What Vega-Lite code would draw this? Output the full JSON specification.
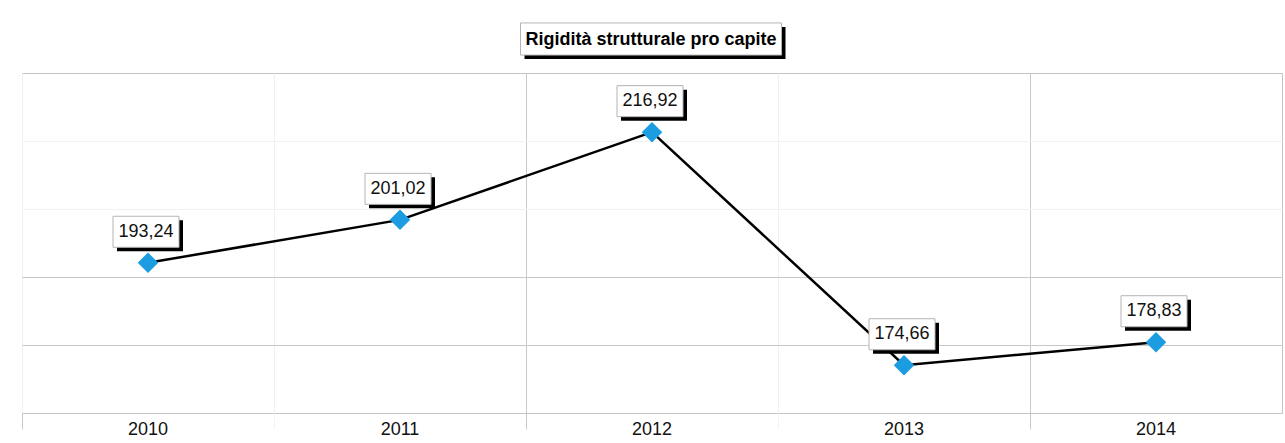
{
  "$schema": "https://vega.github.io/schema/vega-lite/v6.json",
  "padding": {"left": 21, "top": 12, "right": 4, "bottom": 0},
  "background": "white",
  "spacing": 0,
  "config": {
    "locale": {"number": {"decimal": ",", "thousands": ".", "grouping": [3], "currency": ["", " €"]}},
    "view": {"stroke": "#c4c4c4", "strokeWidth": 1},
    "font": "Liberation Sans",
    "concat": {"spacing": 0}
  },
  "vconcat": [
    {
      "width": 1260,
      "height": 60,
      "view": {"stroke": null},
      "data": {"values": [{"titolo": "Rigidità strutturale pro capite"}]},
      "layer": [
        {
          "mark": {"type": "point", "shape": "M-1,-0.123L1,-0.123L1,0.123L-1,0.123Z", "filled": true, "size": 68121, "color": "black", "opacity": 1, "xOffset": 3, "yOffset": 1}
        },
        {
          "mark": {"type": "point", "shape": "M-1,-0.123L1,-0.123L1,0.123L-1,0.123Z", "filled": true, "size": 68121, "fill": "white", "stroke": "#b4b4b4", "strokeWidth": 1, "opacity": 1, "xOffset": -1, "yOffset": -3}
        },
        {
          "mark": {"type": "text", "fontSize": 18, "fontWeight": "bold", "font": "Liberation Sans", "color": "black", "baseline": "middle", "xOffset": -1, "yOffset": -2},
          "encoding": {"text": {"field": "titolo", "type": "nominal"}}
        }
      ]
    },
    {
      "width": 1260,
      "height": 340,
      "data": {"values": [
        {"anno": "2010", "valore": 193.24},
        {"anno": "2011", "valore": 201.02},
        {"anno": "2012", "valore": 216.92},
        {"anno": "2013", "valore": 174.66},
        {"anno": "2014", "valore": 178.83}
      ]},
      "encoding": {
        "x": {
          "field": "anno", "type": "nominal",
          "scale": {"type": "band", "paddingInner": 0, "paddingOuter": 0},
          "axis": {
            "title": null, "labelAngle": 0, "domain": false,
            "grid": true, "bandPosition": 0,
            "gridColor": {"condition": {"test": "datum.value == '2012' || datum.value == '2014'", "value": "#c8c8c8"}, "value": "#f1f1f1"},
            "ticks": true, "tickSize": 16,
            "tickColor": {"condition": {"test": "datum.value == '2010' || datum.value == '2012' || datum.value == '2014'", "value": "#c8c8c8"}, "value": "#f4f4f4"},
            "labelFontSize": 18, "labelFont": "Liberation Sans", "labelColor": "#111111", "labelPadding": -9
          }
        },
        "y": {
          "field": "valore", "type": "quantitative",
          "scale": {"domain": [166, 227.65], "zero": false, "nice": false},
          "axis": {
            "title": null, "labels": false, "ticks": false, "domain": false,
            "grid": true, "values": [178.33, 190.66, 203, 215.33],
            "gridColor": {"condition": {"test": "datum.value > 200", "value": "#f1f1f1"}, "value": "#c8c8c8"}
          }
        }
      },
      "layer": [
        {"mark": {"type": "line", "color": "black", "strokeWidth": 2.5}},
        {"mark": {"type": "point", "shape": "diamond", "filled": true, "size": 420, "color": "#1c9de2", "opacity": 1}},
        {"mark": {"type": "point", "shape": "M-1,-0.47L1,-0.47L1,0.47L-1,0.47Z", "filled": true, "size": 4356, "color": "black", "opacity": 1, "xOffset": 2, "yOffset": -27}},
        {"mark": {"type": "point", "shape": "M-1,-0.47L1,-0.47L1,0.47L-1,0.47Z", "filled": true, "size": 4356, "fill": "white", "stroke": "#b4b4b4", "strokeWidth": 1, "opacity": 1, "xOffset": -2, "yOffset": -31}},
        {
          "mark": {"type": "text", "fontSize": 18, "font": "Liberation Sans", "color": "#111111", "baseline": "middle", "xOffset": -2, "yOffset": -31},
          "encoding": {"text": {"field": "valore", "type": "quantitative", "format": ".2f"}}
        }
      ]
    }
  ]
}
